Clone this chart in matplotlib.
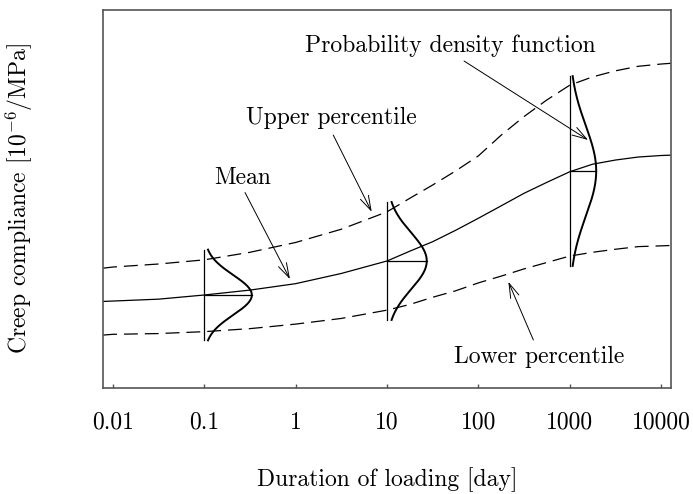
import numpy as np
import matplotlib
matplotlib.use("Agg")
import matplotlib.pyplot as plt

plt.rcParams["font.family"] = "serif"
plt.rcParams["font.serif"] = ["cmr10", "DejaVu Serif"]
plt.rcParams["mathtext.fontset"] = "cm"
plt.rcParams["axes.formatter.use_mathtext"] = True
plt.rcParams["lines.scale_dashes"] = False

# Duration of loading [day]
duration = [0.0078, 0.01, 0.0316, 0.1, 0.316, 1, 3.16, 10,
            17.8, 31.6, 56.2, 100, 178, 316, 562, 1000, 1778, 3162, 5623,
            10000, 12900]
# Creep compliance (arbitrary units, the chart shows no scale)
mean_curve = [22.9, 23.0, 23.5, 24.6, 25.9, 27.6, 30.3, 33.6,
              36.2, 38.7, 41.7, 44.9, 48.2, 51.5, 54.4, 57.2, 59.2, 60.3, 61.1,
              61.5, 61.6]
upper_curve = [31.7, 32.0, 32.8, 33.9, 35.9, 38.5, 42.0, 46.6,
               50.2, 53.7, 57.4, 61.4, 66.9, 71.8, 76.2, 80.1, 82.3, 83.9, 85.1,
               85.7, 85.9]
lower_curve = [14.0, 14.2, 14.4, 14.9, 15.7, 16.9, 18.4, 20.6,
               22.1, 24.0, 25.7, 27.8, 29.6, 31.5, 33.2, 34.9, 35.9, 36.7, 37.4,
               37.6, 37.7]

# probability density functions drawn at three durations
pdf_times = [0.1, 10, 1000]
pdf_means = [24.6, 33.6, 57.4]
pdf_sd = [5.3, 7.5, 12.0]
pdf_halfrange = [12.0, 15.6, 25.1]
pdf_peak_decades = [0.52, 0.435, 0.29]

tick_vals = [0.01, 0.1, 1, 10, 100, 1000, 10000]
tick_labels = ["0.01", "0.1", "1", "10", "100", "1000", "10000"]

fig = plt.figure(figsize=(6.93, 4.94), dpi=100)
ax = fig.add_axes([0.1486, 0.2146, 0.8197, 0.7652])

ax.plot(duration, mean_curve, color="black", lw=0.9)
ax.plot(duration, upper_curve, color="black", lw=0.9, dashes=(10, 5))
ax.plot(duration, lower_curve, color="black", lw=0.9, dashes=(10, 5))

for t, m, sd, h, pk in zip(pdf_times, pdf_means, pdf_sd, pdf_halfrange, pdf_peak_decades):
    yy = np.linspace(m - h, m + h, 200)
    dens = np.exp(-0.5 * ((yy - m) / sd) ** 2)
    ax.plot(t * 10 ** (pk * dens), yy, color="black", lw=1.4)
    ax.plot([t, t], [m - h, m + h], color="black", lw=0.9)
    ax.plot([t, t * 10 ** pk], [m, m], color="black", lw=0.9)

fs = 17
arrow = dict(arrowstyle="->,head_length=1.05,head_width=0.32", lw=0.7,
             color="black", shrinkA=0, shrinkB=0)

ax.text(49, 90.5, "Probability density function", fontsize=fs,
        ha="center", va="center")
ax.annotate("", xy=(1590, 65.6), xytext=(69.7, 86.5), arrowprops=arrow)

ax.text(2.44, 71.4, "Upper percentile", fontsize=fs, ha="center", va="center")
ax.annotate("", xy=(6.8, 46.6), xytext=(2.58, 66.9), arrowprops=arrow)

ax.text(0.265, 55.6, "Mean", fontsize=fs, ha="center", va="center")
ax.annotate("", xy=(0.866, 28.8), xytext=(0.279, 51.7), arrowprops=arrow)

ax.text(462, 8.1, "Lower percentile", fontsize=fs, ha="center", va="center")
ax.annotate("", xy=(213, 28.1), xytext=(400, 12.7), arrowprops=arrow)

ax.set_xscale("log")
ax.set_xlim(0.00777, 12860)
ax.set_ylim(0, 100)
ax.set_xticks(tick_vals)
ax.set_xticklabels(tick_labels, fontsize=fs)
ax.minorticks_off()
ax.set_yticks([])
ax.tick_params(axis="x", direction="in", length=3, width=1.0, colors="#555555",
               labelcolor="black", pad=17)
for s in ax.spines.values():
    s.set_color("#555555")
    s.set_linewidth(1.2)

ax.set_xlabel("Duration of loading [day]", fontsize=fs)
ax.set_ylabel("Creep compliance [10$^{-6}$/MPa]", fontsize=fs)
ax.xaxis.set_label_coords(0.5, -0.21)
ax.yaxis.set_label_coords(-0.12, 0.5)

fig.savefig("out.png", dpi=100)
